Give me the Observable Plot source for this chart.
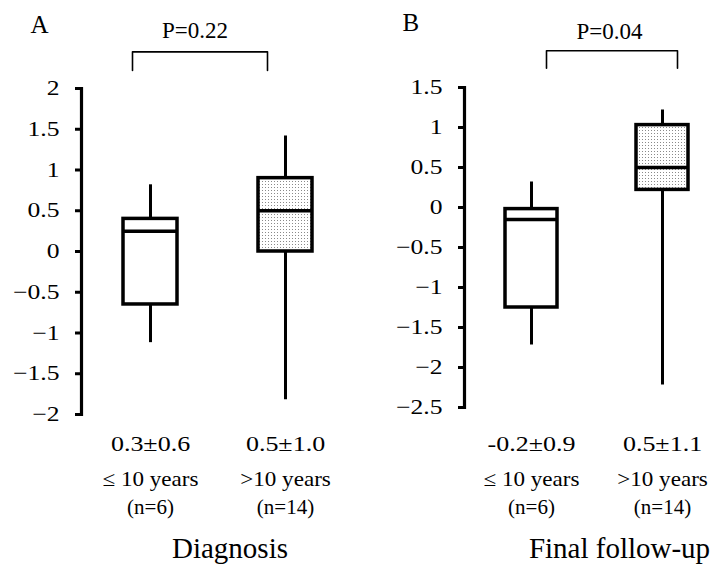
<!DOCTYPE html>
<html><head><meta charset="utf-8">
<script src="https://cdn.jsdelivr.net/npm/d3@7"></script>
<script src="https://cdn.jsdelivr.net/npm/@observablehq/plot@0.6"></script>
<style>
body{margin:0;background:#fff;}
#wrap{display:flex;width:724px;height:575px;overflow:hidden;}
#wrap svg{flex:none;}
</style></head><body><div id="wrap"></div>
<script>
// ---- shared categories ----
const groups = ["≤ 10 years", ">10 years"];
const groupN = ["(n=6)", "(n=14)"];

// ---- Panel A: Diagnosis ----
const diagLow    = [-1.1, -1.8];
const diagQ1     = [-0.65, 0.0];
const diagMedian = [0.25, 0.5];
const diagQ3     = [0.4, 0.9];
const diagHigh   = [0.8, 1.4];
const diagMeanSd = ["0.3±0.6", "0.5±1.0"];
const diagTicks  = [-2, -1.5, -1, -0.5, 0, 0.5, 1, 1.5, 2];
const diagP      = "P=0.22";
const diagTitle  = "Diagnosis";
const diagBracket = [2.45, 2.22]; // top, feet (data units)

// ---- Panel B: Final follow-up ----
const finalLow    = [-1.7, -2.2];
const finalQ1     = [-1.25, 0.22];
const finalMedian = [-0.15, 0.5];
const finalQ3     = [-0.02, 1.03];
const finalHigh   = [0.3, 1.2];
const finalMeanSd = ["-0.2±0.9", "0.5±1.1"];
const finalTicks  = [-2.5, -2, -1.5, -1, -0.5, 0, 0.5, 1, 1.5];
const finalP      = "P=0.04";
const finalTitle  = "Final follow-up";
const finalBracket = [1.96, 1.74];

const FONT = "'Liberation Serif', 'Times New Roman', serif";
const fmt = d3.format("");

function stretch(svg, cls, sx) {
  svg.querySelectorAll(`.${cls} text`).forEach(t => {
    const tr = t.getAttribute("transform") || "";
    t.setAttribute("transform", `${tr} scale(${sx},1)`);
  });
}

function panel(cfg) {
  const rows = groups.map((g, i) => ({
    group: g, n: groupN[i], meanSd: cfg.meanSd[i],
    low: cfg.low[i], q1: cfg.q1[i], med: cfg.med[i], q3: cfg.q3[i], high: cfg.high[i], idx: i
  }));
  const bracket = [
    {group: groups[0], y: cfg.bracket[1]},
    {group: groups[0], y: cfg.bracket[0]},
    {group: groups[1], y: cfg.bracket[0]},
    {group: groups[1], y: cfg.bracket[1]}
  ];
  const L = cfg.layout;
  const svg = Plot.plot({
    width: L.width, height: 575,
    marginLeft: L.ml, marginRight: L.mr, marginTop: L.mt, marginBottom: L.mb,
    style: {fontFamily: FONT, fontSize: "20px", color: "#000", background: "white", overflow: "visible"},
    x: {type: "band", domain: groups, paddingInner: L.pi, paddingOuter: L.po, align: L.align, axis: null},
    y: {domain: cfg.domain, axis: null},
    marks: [
      Plot.axisY({ticks: cfg.ticks, tickSize: 6, strokeWidth: 3, tickFormat: () => ""}),
      Plot.text(cfg.ticks, {y: d => d, text: d => fmt(d), frameAnchor: "left", textAnchor: "end", dx: -22, fontSize: 21, className: "sx-tick"}),
      Plot.frame({anchor: "left", strokeWidth: 3.2}),
      Plot.ruleX(rows, {x: "group", y1: "low", y2: "high", strokeWidth: 3, strokeLinecap: "square"}),
      Plot.barY(rows.filter(d => d.idx === 0), {x: "group", y1: "q1", y2: "q3", fill: "white", stroke: "black", strokeWidth: 3.5}),
      Plot.barY(rows.filter(d => d.idx === 1), {x: "group", y1: "q1", y2: "q3", fill: `url(#${cfg.pid})`, stroke: "black", strokeWidth: 3.5}),
      Plot.tickY(rows, {x: "group", y: "med", strokeWidth: 3.5}),
      Plot.line(bracket, {x: "group", y: "y", dx: L.bracketDx, strokeWidth: 1.6, curve: "linear"}),
      Plot.text([cfg.p], {frameAnchor: "top", text: d => d, dx: L.pDx, dy: L.pDy, lineAnchor: "bottom", fontSize: 23}),
      Plot.text([cfg.letter], {frameAnchor: "top-left", text: d => d, textAnchor: "start", dx: L.letterDx, dy: L.letterDy, lineAnchor: "bottom", fontSize: 25}),
      Plot.text(rows, {x: "group", text: "meanSd", frameAnchor: "bottom", dy: L.meanDy, lineAnchor: "bottom", fontSize: 20, className: "sx-mean"}),
      Plot.text(rows, {x: "group", text: "group", frameAnchor: "bottom", dy: L.groupDy, lineAnchor: "bottom", fontSize: 21, className: "sx-group"}),
      Plot.text(rows, {x: "group", text: "n", frameAnchor: "bottom", dy: L.nDy, lineAnchor: "bottom", fontSize: 21}),
      Plot.text([cfg.title], {frameAnchor: "bottom", text: d => d, dx: L.titleDx, dy: L.titleDy, lineAnchor: "bottom", fontSize: 29})
    ]
  });
  svg.insertAdjacentHTML("afterbegin",
    `<defs><pattern id="${cfg.pid}" width="3" height="3" patternUnits="userSpaceOnUse">` +
    `<rect width="3" height="3" fill="#fff"/><rect x="1" y="1" width="1" height="1" fill="#8a8a8a"/></pattern></defs>`);
  stretch(svg, "sx-tick", 1.22);
  stretch(svg, "sx-mean", 1.3);
  stretch(svg, "sx-group", 1.1);
  return svg;
}

const wrap = document.getElementById("wrap");
wrap.appendChild(panel({
  pid: "dotsA", letter: "A", p: diagP, title: diagTitle, bracket: diagBracket,
  low: diagLow, q1: diagQ1, med: diagMedian, q3: diagQ3, high: diagHigh, meanSd: diagMeanSd,
  ticks: diagTicks, domain: [-2, 2],
  layout: {width: 362, ml: 81, mr: 8, mt: 88, mb: 161, pi: 0.6, po: 0.311, align: 0.5,
    bracketDx: -18, pDx: -23, pDy: -51, letterDx: -51, letterDy: -56,
    meanDy: 36, groupDy: 71, nDy: 99, titleDx: 12, titleDy: 143}
}));
wrap.appendChild(panel({
  pid: "dotsB", letter: "B", p: finalP, title: finalTitle, bracket: finalBracket,
  low: finalLow, q1: finalQ1, med: finalMedian, q3: finalQ3, high: finalHigh, meanSd: finalMeanSd,
  ticks: finalTicks, domain: [-2.5, 1.5],
  layout: {width: 362, ml: 102, mr: 4, mt: 87, mb: 168, pi: 0.606, po: 0.2727, align: 0.556,
    bracketDx: 15, pDx: 17, pDy: -49, letterDx: -62, letterDy: -57,
    meanDy: 43, groupDy: 78, nDy: 106, titleDx: 27, titleDy: 150}
}));
</script>
</body></html>
